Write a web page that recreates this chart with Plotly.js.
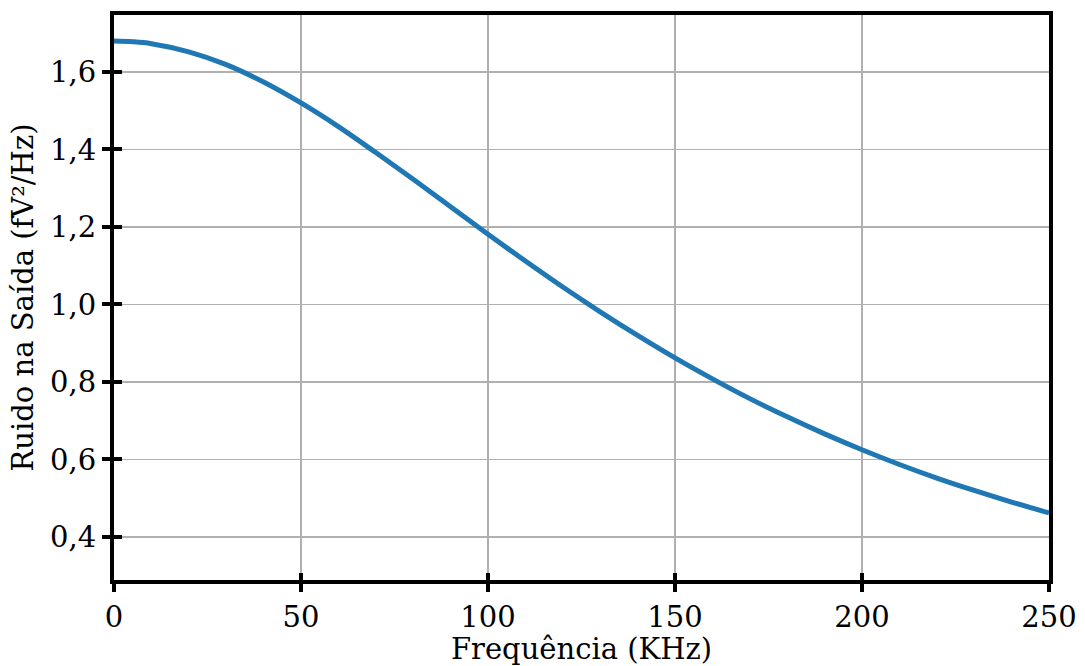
<!DOCTYPE html>
<html>
<head>
<meta charset="utf-8">
<script src="https://cdn.plot.ly/plotly-3.0.1.min.js"></script>
<style>html,body{margin:0;padding:0;background:#fff;}#chart{width:1085px;height:666px;}</style>
</head>
<body>
<div id="chart"></div>
<script>
const freqKHz = [0,5,10,20,30,40,50,60,70,80,90,100,110,120,130,140,150,160,170,180,190,200,210,220,230,240,250];
const noise = [1.680,1.678,1.673,1.652,1.619,1.574,1.520,1.459,1.392,1.323,1.252,1.181,1.112,1.045,0.981,0.920,0.862,0.808,0.757,0.710,0.666,0.625,0.587,0.552,0.520,0.490,0.462];
const xTicks = [0,50,100,150,200,250];
const xTickLabels = ["0","50","100","150","200","250"];
const yTicks = [0.4,0.6,0.8,1.0,1.2,1.4,1.6];
const yTickLabels = ["0,4","0,6","0,8","1,0","1,2","1,4","1,6"];
const xTitle = "Frequência (KHz)";
const yTitle = "Ruido na Saída (fV²/Hz)";

const font = {family: "DejaVu Serif", size: 29, color: "#000"};
const xRange = [0, 250];
const yRange = [0.289, 1.747];

const traces = [
  {x: freqKHz, y: noise, type: "scatter", mode: "lines",
   line: {color: "#1f77b4", width: 5, shape: "spline", smoothing: 1}, hoverinfo: "skip"},
  {x: freqKHz, y: noise, type: "scatter", mode: "lines", xaxis: "x2", yaxis: "y2",
   line: {color: "rgba(0,0,0,0)", width: 0}, hoverinfo: "skip", showlegend: false}
];

const layout = {
  width: 1085, height: 666,
  margin: {l: 114, r: 36, t: 15, b: 86},
  paper_bgcolor: "#fff", plot_bgcolor: "#fff",
  showlegend: false,
  font: font,
  xaxis: {
    range: xRange, tickvals: xTicks, ticktext: xTickLabels,
    showgrid: true, gridcolor: "#b0b0b0", gridwidth: 1.6,
    zeroline: false, showline: true, linecolor: "#000", linewidth: 4, mirror: true,
    ticks: "outside", ticklen: 8, tickwidth: 4, tickcolor: "#000",
    tickfont: font,
    title: {text: xTitle, font: font, standoff: 9}
  },
  yaxis: {
    range: yRange, tickvals: yTicks, ticktext: yTickLabels,
    showgrid: true, gridcolor: "#b0b0b0", gridwidth: 1.6,
    zeroline: false, showline: true, linecolor: "#000", linewidth: 4, mirror: true,
    ticks: "outside", ticklen: 8, tickwidth: 4, tickcolor: "#000",
    tickfont: font,
    title: {text: yTitle, font: font, standoff: 9}
  },
  xaxis2: {
    overlaying: "x", anchor: "y", side: "bottom", range: xRange, tickvals: xTicks,
    showticklabels: false, showgrid: false, zeroline: false, showline: false,
    ticks: "inside", ticklen: 7, tickwidth: 4, tickcolor: "#000"
  },
  yaxis2: {
    overlaying: "y", anchor: "x", side: "left", range: yRange, tickvals: yTicks,
    showticklabels: false, showgrid: false, zeroline: false, showline: false,
    ticks: "inside", ticklen: 8, tickwidth: 4, tickcolor: "#000"
  }
};

Plotly.newPlot("chart", traces, layout, {displayModeBar: false, staticPlot: true});
</script>
</body>
</html>
